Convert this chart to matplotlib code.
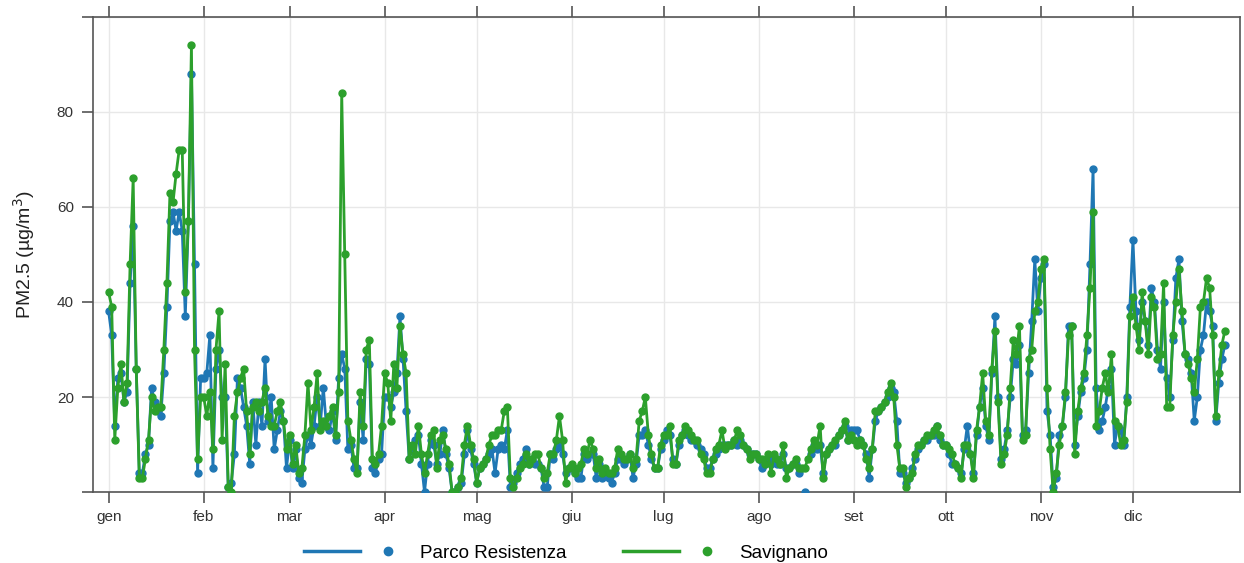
import numpy as np
import matplotlib
matplotlib.use("Agg")
import matplotlib.pyplot as plt
from matplotlib.lines import Line2D
from matplotlib.legend_handler import HandlerTuple

nan = np.nan

# daily PM2.5, Parco Resistenza
pr_gen = [38, 33, 14, 24, 25, 19, 21, 44, 56, 26, 4, 4, 8, 10, 22, 19, 17, 16, 25, 39, 57, 59, 55, 59, 55, 37, 57, 88, 48, 4, 24]
pr_feb = [24, 25, 33, 5, 26, 30, 20, 20, 1, 2, 8, 24, 22, 18, 14, 6, 19, 10, 19, 14, 28, 15, 20, 9, 13, 17, 15, 5]
pr_mar = [11, 5, 9, 3, 2, 9, 12, 10, 14, 20, 14, 22, 14, 13, 17, 11, 24, 29, 26, 9, 10, 5, 5, 19, 11, 28, 27, 5, 4, 7, 8]
pr_apr = [20, 20, 18, 21, 25, 37, 28, 17, 7, 9, 11, 12, 6, 0, 6, 11, 10, 6, 8, 13, 8, 5, 0, 0, 1, 2, 8, 13, 9, 6]
pr_mag = [2, 5, 6, 7, 8, 9, 4, 9, 10, 9, 13, 1, 2, 4, 6, 7, 9, 6, 7, 6, 6, 5, 1, 1, 8, 7, 9, 10, 8, 4, 5]
pr_giu = [5, 4, 3, 3, 8, 7, 8, 8, 3, 6, 3, 4, 3, 2, 4, 7, 7, 6, 7, 8, 3, 6, 12, 12, 13, 10, 7, 5, 5, 9]
pr_lug = [11, 13, 12, 7, 6, 10, 12, 13, 12, 11, 11, 10, 9, 8, 5, 5, 7, 8, 9, 10, 10, 10, 10, 11, 10, 11, 10, 9, 8, 8, 8]
pr_ago = [7, 5, 6, 7, 6, 7, 6, 6, 8, 5, 5, 6, 6, 4, nan, 0, nan, 8, 10, 9, 10, 4, 8, 9, 10, 10, 12, 13, 14, 11, 13]
pr_set = [13, 13, 11, 10, 8, 3, 9, 15, 17, 18, 19, 20, 22, 21, 15, 4, 4, 2, 3, 5, 7, 9, 10, 11, 11, 12, 12, 14, 11, 10]
pr_ott = [10, 8, 6, 6, 5, 4, 9, 14, 8, 4, 12, 18, 22, 14, 11, 25, 37, 20, 7, 9, 13, 20, 28, 27, 31, 12, 13, 25, 36, 49, 38]
pr_nov = [45, 48, 17, 12, 1, 3, 12, 14, 20, 35, 35, 10, 16, 21, 24, 30, 48, 68, 22, 13, 15, 18, 22, 26, 10, 14, 13, 10, 20, 39]
pr_dic = [53, 38, 32, 40, 36, 31, 43, 40, 30, 26, 40, 24, 20, 32, 45, 49, 36, 29, 28, 25, 15, 20, 30, 33, 40, 38, 35, 15, 23, 28, 31]

# daily PM2.5, Savignano
sv_gen = [42, 39, 11, 22, 27, 19, 23, 48, 66, 26, 3, 3, 7, 11, 20, 17, 18, 18, 30, 44, 63, 61, 67, 72, 72, 42, 57, 94, 30, 7, 20]
sv_feb = [20, 16, 21, 9, 30, 38, 11, 27, 1, 0, 16, 21, 24, 26, 17, 8, 18, 19, 17, 19, 22, 16, 14, 14, 17, 19, 15, 9]
sv_mar = [12, 6, 10, 4, 5, 12, 23, 13, 18, 25, 13, 15, 14, 16, 18, 12, 21, 84, 50, 15, 11, 7, 4, 21, 14, 30, 32, 7, 6, 8, 14]
sv_apr = [25, 23, 15, 27, 22, 35, 29, 25, 7, 10, 8, 14, 8, 4, 8, 12, 13, 5, 11, 12, 9, 6, 0, 0, 1, 3, 10, 14, 10, 7]
sv_mag = [2, 5, 6, 7, 10, 12, 12, 13, 13, 17, 18, 3, 1, 3, 5, 6, 8, 6, 7, 8, 8, 5, 3, 4, 8, 8, 11, 16, 11, 2, 5]
sv_giu = [6, 4, 5, 6, 9, 8, 11, 9, 5, 7, 4, 5, 4, 4, 5, 9, 8, 7, 7, 8, 5, 7, 15, 17, 20, 12, 8, 5, 5, 10]
sv_lug = [12, 12, 14, 6, 6, 11, 12, 14, 13, 12, 11, 11, 8, 7, 4, 4, 7, 9, 10, 13, 9, 10, 10, 11, 13, 12, 10, 9, 7, 8, 8]
sv_ago = [7, 7, 6, 8, 4, 8, 7, 6, 10, 3, 5, 6, 7, 5, 5, 5, 7, 9, 11, 10, 14, 3, 8, 9, 10, 11, 12, 13, 15, 11, 12]
sv_set = [11, 10, 11, 10, 7, 5, 9, 17, 17, 18, 19, 21, 23, 20, 10, 5, 5, 1, 3, 4, 8, 10, 10, 11, 12, 12, 13, 14, 12, 10]
sv_ott = [10, 9, 8, 6, 5, 3, 10, 10, 8, 3, 13, 18, 25, 15, 12, 26, 34, 19, 6, 8, 12, 22, 32, 29, 35, 11, 12, 28, 30, 38, 40]
sv_nov = [47, 49, 22, 9, 0, 4, 10, 14, 21, 33, 35, 8, 17, 22, 25, 33, 43, 59, 14, 17, 22, 25, 21, 29, 15, 14, 10, 11, 19, 37]
sv_dic = [41, 35, 30, 42, 36, 29, 41, 39, 28, 29, 44, 18, 18, 33, 40, 47, 38, 29, 27, 24, 21, 28, 39, 40, 45, 43, 33, 16, 25, 31, 34]

month_labels = ["gen", "feb", "mar", "apr", "mag", "giu", "lug", "ago", "set", "ott", "nov", "dic"]
month_starts = [0, 31, 59, 90, 120, 151, 181, 212, 243, 273, 304, 334]

parco = np.array(pr_gen + pr_feb + pr_mar + pr_apr + pr_mag + pr_giu
                 + pr_lug + pr_ago + pr_set + pr_ott + pr_nov + pr_dic, dtype=float)
savignano = np.array(sv_gen + sv_feb + sv_mar + sv_apr + sv_mag + sv_giu
                     + sv_lug + sv_ago + sv_set + sv_ott + sv_nov + sv_dic, dtype=float)
days = np.arange(len(parco))

plt.rcParams["font.family"] = ["Liberation Sans", "DejaVu Sans"]

blue = "#1f77b4"
green = "#2ca02c"
edge = "#555555"

fig = plt.figure(figsize=(12.44, 5.63), dpi=100)
ax = fig.add_axes([0.075, 0.126, 0.922, 0.844])

ax.plot(days, parco, color=blue, lw=2, marker="o", ms=5, zorder=3)
ax.plot(days, savignano, color=green, lw=2, marker="o", ms=5, zorder=4)

ax.set_xlim(-5, 369)
ax.set_ylim(0, 100)
ax.set_xticks(month_starts)
ax.set_xticklabels(month_labels)
ax.set_yticks([0, 20, 40, 60, 80, 100])
ax.set_yticklabels(["", "20", "40", "60", "80", ""])
ax.grid(True, color="#e8e8e8", lw=1)
ax.set_axisbelow(True)

for sp in ax.spines.values():
    sp.set_color(edge)
    sp.set_linewidth(1.2)
ax.tick_params(axis="both", direction="out", length=8, width=1.2, color=edge,
               labelsize=11, labelcolor="#333333")
ax.tick_params(axis="x", top=True, pad=5)
ax.tick_params(axis="y", pad=6)

ax.set_ylabel("PM2.5 (µg/m$^3$)", fontsize=14, color="#222222", labelpad=14)

# legend entries: a line segment followed by a separate dot
handles = [
    (Line2D([], [], color=blue, lw=2.5), Line2D([], [], color=blue, ls="", marker="o", ms=6)),
    (Line2D([], [], color=green, lw=2.5), Line2D([], [], color=green, ls="", marker="o", ms=6)),
]
fig.legend(handles, ["Parco Resistenza", "Savignano"], loc="lower center",
           bbox_to_anchor=(0.455, -0.028), ncol=2, frameon=False, fontsize=13.5,
           handlelength=6.0, handletextpad=0.2, columnspacing=3.0,
           handler_map={tuple: HandlerTuple(ndivide=None, pad=0.0)})

fig.savefig("out.png", dpi=100)
